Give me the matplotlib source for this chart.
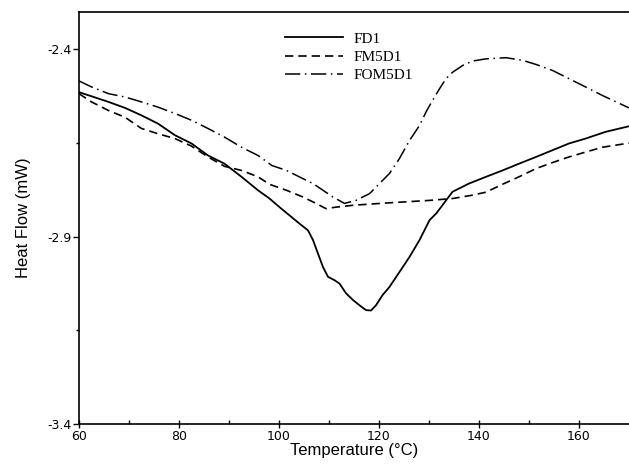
import numpy as np
import matplotlib
matplotlib.use("Agg")
import matplotlib.pyplot as plt

fd1_t = [60.0, 62.5, 65.9, 69.2, 72.5, 75.8, 79.2, 82.5, 85.8, 89.1, 92.5, 95.8, 98.1,
         100.1, 102.1, 104.1, 105.8, 106.8, 107.8, 108.8, 109.8, 111.1, 112.1, 113.4,
         114.8, 116.1, 117.4, 118.4, 119.4, 120.7, 122.1, 124.1, 126.1, 128.1, 130.1,
         131.5, 134.7, 138.0, 141.4, 144.7, 148.0, 151.4, 154.7, 158.0, 161.3, 165.3,
         170.0]
fd1_h = [-2.514, -2.525, -2.540, -2.556, -2.576, -2.598, -2.629, -2.651, -2.683, -2.705,
         -2.740, -2.776, -2.798, -2.821, -2.843, -2.865, -2.883, -2.909, -2.945, -2.981,
         -3.007, -3.016, -3.025, -3.051, -3.069, -3.083, -3.096, -3.097, -3.083, -3.056,
         -3.034, -2.994, -2.954, -2.909, -2.856, -2.837, -2.780, -2.758, -2.740, -2.723,
         -2.705, -2.687, -2.669, -2.651, -2.638, -2.620, -2.605]

fm5d1_t = [60.0, 62.5, 65.9, 69.2, 72.5, 75.8, 79.2, 82.5, 85.8, 89.1, 92.5, 95.8, 98.1,
           101.5, 104.8, 107.4, 109.4, 111.4, 114.8, 121.4, 130.1, 134.7, 138.7, 141.4,
           144.7, 148.0, 151.4, 154.7, 158.0, 161.3, 164.7, 170.0]
fm5d1_h = [-2.518, -2.540, -2.563, -2.581, -2.611, -2.625, -2.638, -2.658, -2.687, -2.712,
           -2.723, -2.740, -2.760, -2.776, -2.794, -2.811, -2.825, -2.821, -2.816, -2.810,
           -2.803, -2.798, -2.789, -2.781, -2.760, -2.740, -2.718, -2.702, -2.687, -2.674,
           -2.661, -2.650]

fom5d1_t = [60.0, 62.5, 65.9, 69.2, 72.5, 75.8, 79.2, 82.5, 85.8, 89.1, 92.5, 95.8, 98.6,
            101.5, 104.8, 106.8, 108.8, 110.8, 113.1, 115.4, 118.1, 120.1, 122.1, 124.1,
            126.1, 128.1, 129.4, 130.7, 132.1, 133.4, 134.7, 136.7, 138.7, 141.4, 145.4,
            148.7, 151.4, 154.7, 158.0, 161.3, 164.7, 170.0]
fom5d1_h = [-2.484, -2.500, -2.518, -2.527, -2.540, -2.554, -2.571, -2.589, -2.611, -2.634,
            -2.661, -2.683, -2.710, -2.723, -2.745, -2.758, -2.776, -2.794, -2.811, -2.803,
            -2.785, -2.758, -2.731, -2.691, -2.643, -2.603, -2.567, -2.536, -2.505, -2.478,
            -2.461, -2.443, -2.431, -2.425, -2.422, -2.429, -2.440, -2.456, -2.478, -2.500,
            -2.523, -2.556]

fig = plt.figure(figsize=(6.29, 4.73), dpi=100)
ax = fig.add_axes([0.1256, 0.1036, 0.8744, 0.871])

ax.plot(fd1_t, fd1_h, color='black', lw=1.3, label='FD1')
ax.plot(fm5d1_t, fm5d1_h, color='black', lw=1.2, dashes=(5, 3), label='FM5D1')
ax.plot(fom5d1_t, fom5d1_h, color='black', lw=1.1, dashes=(10, 3, 1, 3), label='FOM5D1')

ax.set_xlim(60, 170)
ax.set_ylim(-3.4, -2.3)
ax.set_xticks([60, 80, 100, 120, 140, 160])
ax.set_xticks([70, 90, 110, 130, 150], minor=True)
ax.set_yticks([-3.4, -2.9, -2.4])
ax.set_yticklabels(['-3.4', '-2.9', '-2.4'])
ax.set_yticks([-3.15, -2.65], minor=True)
ax.tick_params(axis='x', which='major', direction='inout', length=6, width=1, labelsize=9, pad=1)
ax.tick_params(axis='x', which='minor', direction='in', length=3, width=1)
ax.tick_params(axis='y', which='major', direction='out', length=4, width=1, labelsize=9, pad=1)
ax.tick_params(axis='y', which='minor', direction='out', length=2, width=1)
ax.spines['right'].set_visible(False)
for s in ['left', 'bottom', 'top']:
    ax.spines[s].set_linewidth(1.2)

ax.set_xlabel('Temperature (°C)', fontsize=12, family='Liberation Sans', labelpad=0)
ax.set_ylabel('Heat Flow (mW)', fontsize=12, family='Liberation Sans', labelpad=12)

ax.legend(loc='upper left', bbox_to_anchor=(0.35, 0.985), frameon=False,
          prop={'family': 'Liberation Serif', 'size': 11}, handlelength=3.8,
          labelspacing=0.3, handletextpad=0.7)

fig.savefig('out.png', dpi=100)
